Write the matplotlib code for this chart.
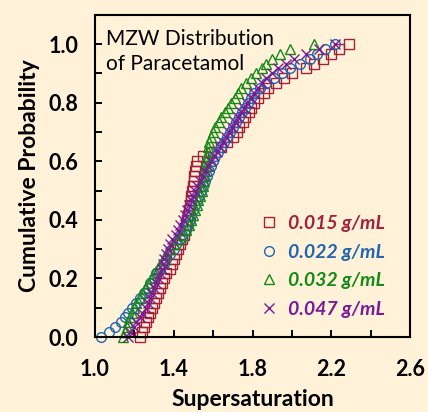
import matplotlib
matplotlib.use("Agg")
import matplotlib.pyplot as plt
from matplotlib.ticker import FixedLocator, MultipleLocator, FormatStrFormatter

# cumulative probability levels shared by all four runs (61 runs each)
prob = [0.000, 0.017, 0.033, 0.050, 0.067, 0.083, 0.100, 0.117, 0.133, 0.150,
        0.167, 0.183, 0.200, 0.217, 0.233, 0.250, 0.267, 0.283, 0.300, 0.317,
        0.333, 0.350, 0.367, 0.383, 0.400, 0.417, 0.433, 0.450, 0.467, 0.483,
        0.500, 0.517, 0.533, 0.550, 0.567, 0.583, 0.600, 0.617, 0.633, 0.650,
        0.667, 0.683, 0.700, 0.717, 0.733, 0.750, 0.767, 0.783, 0.800, 0.817,
        0.833, 0.850, 0.867, 0.883, 0.900, 0.917, 0.933, 0.950, 0.967, 0.983,
        1.000]

# supersaturation at each level
s_015 = [1.23, 1.24, 1.25, 1.26, 1.27, 1.28, 1.29, 1.30, 1.31, 1.32,
         1.33, 1.34, 1.35, 1.36, 1.38, 1.39, 1.40, 1.41, 1.42, 1.43,
         1.44, 1.45, 1.455, 1.46, 1.465, 1.47, 1.475, 1.48, 1.485, 1.49,
         1.495, 1.50, 1.503, 1.505, 1.51, 1.515, 1.52, 1.55, 1.59, 1.64,
         1.67, 1.70, 1.72, 1.73, 1.75, 1.76, 1.78, 1.79, 1.81, 1.83,
         1.86, 1.88, 1.92, 1.96, 2.00, 2.07, 2.11, 2.16, 2.20, 2.24,
         2.29]
s_022 = [1.03, 1.07, 1.10, 1.13, 1.15, 1.17, 1.19, 1.21, 1.23, 1.25,
         1.27, 1.28, 1.30, 1.31, 1.33, 1.35, 1.36, 1.38, 1.40, 1.41,
         1.43, 1.44, 1.46, 1.47, 1.48, 1.49, 1.50, 1.51, 1.52, 1.53,
         1.54, 1.55, 1.56, 1.57, 1.58, 1.59, 1.60, 1.61, 1.625, 1.64,
         1.655, 1.67, 1.685, 1.70, 1.715, 1.73, 1.745, 1.76, 1.775, 1.79,
         1.81, 1.84, 1.87, 1.91, 1.95, 1.99, 2.04, 2.09, 2.13, 2.17,
         2.22]
s_032 = [1.14, 1.15, 1.16, 1.17, 1.18, 1.19, 1.20, 1.21, 1.23, 1.24,
         1.26, 1.27, 1.29, 1.30, 1.32, 1.33, 1.35, 1.36, 1.38, 1.40,
         1.42, 1.445, 1.46, 1.475, 1.49, 1.50, 1.51, 1.52, 1.525, 1.535,
         1.545, 1.548, 1.552, 1.555, 1.558, 1.562, 1.565, 1.568, 1.572, 1.575,
         1.58, 1.59, 1.60, 1.61, 1.63, 1.64, 1.66, 1.675, 1.69, 1.71,
         1.725, 1.74, 1.765, 1.79, 1.82, 1.85, 1.87, 1.90, 1.94, 1.99,
         2.11]
s_047 = [1.17, 1.18, 1.20, 1.21, 1.23, 1.24, 1.26, 1.27, 1.28, 1.29,
         1.30, 1.31, 1.32, 1.33, 1.34, 1.345, 1.35, 1.36, 1.37, 1.38,
         1.39, 1.41, 1.42, 1.43, 1.445, 1.455, 1.465, 1.475, 1.49, 1.50,
         1.51, 1.52, 1.535, 1.55, 1.56, 1.575, 1.59, 1.605, 1.62, 1.635,
         1.65, 1.665, 1.68, 1.695, 1.71, 1.725, 1.74, 1.755, 1.77, 1.79,
         1.81, 1.83, 1.85, 1.87, 1.90, 1.93, 1.97, 2.01, 2.07, 2.14,
         2.22]

labels = ["0.015 g/mL", "0.022 g/mL", "0.032 g/mL", "0.047 g/mL"]
colors = ["#a3213a", "#2066b0", "#168a16", "#7a1a96"]
markers = ["s", "o", "^", "x"]
x_ticks = [1.0, 1.4, 1.8, 2.2, 2.6]
y_ticks = [0.0, 0.2, 0.4, 0.6, 0.8, 1.0]

bg = "#fff2d8"
plt.rcParams["font.family"] = ["Lato", "DejaVu Sans"]

fig = plt.figure(figsize=(4.28, 4.12), dpi=100, facecolor=bg)
ax = fig.add_axes([0.222, 0.182, 0.736, 0.782], facecolor=bg)

handles = []
for xs, c, m, lab in zip([s_015, s_022, s_032, s_047], colors, markers, labels):
    h, = ax.plot(xs, prob, linestyle="none", marker=m, markersize=7,
                 markerfacecolor="none", markeredgecolor=c, markeredgewidth=1.0,
                 label=lab, clip_on=False)
    handles.append(h)

ax.set_xlim(1.0, 2.6)
ax.set_ylim(0.0, 1.1)
ax.xaxis.set_major_locator(FixedLocator(x_ticks))
ax.xaxis.set_minor_locator(MultipleLocator(0.2))
ax.yaxis.set_major_locator(FixedLocator(y_ticks))
ax.yaxis.set_minor_locator(MultipleLocator(0.1))
ax.xaxis.set_major_formatter(FormatStrFormatter("%.1f"))
ax.yaxis.set_major_formatter(FormatStrFormatter("%.1f"))
ax.tick_params(which="both", direction="in", length=5, width=1.4,
               top=False, right=False)
ax.tick_params(axis="x", which="major", pad=16, labelsize=15.5)
ax.tick_params(axis="y", which="major", pad=12, labelsize=15.5)
for t in ax.get_xticklabels() + ax.get_yticklabels():
    t.set_fontweight("bold")
for s in ax.spines.values():
    s.set_linewidth(1.5)

ax.set_xlabel("Supersaturation", fontsize=16.5, fontweight="bold", labelpad=6)
ax.set_ylabel("Cumulative Probability", fontsize=16.5, fontweight="bold", labelpad=6)

ax.text(0.035, 0.955, "MZW Distribution\nof Paracetamol", transform=ax.transAxes,
        fontsize=15, va="top", ha="left", linespacing=1.3)

leg = ax.legend(handles=handles, loc="center left", bbox_to_anchor=(0.52, 0.219),
                frameon=False, borderpad=0, borderaxespad=0, handlelength=1.0,
                handletextpad=0.5, labelspacing=0.6, numpoints=1,
                labelcolor=colors,
                prop={"family": ["Lato", "DejaVu Sans"], "size": 14,
                      "weight": "bold", "style": "italic"})

fig.savefig("out.png", dpi=100, facecolor=bg)
